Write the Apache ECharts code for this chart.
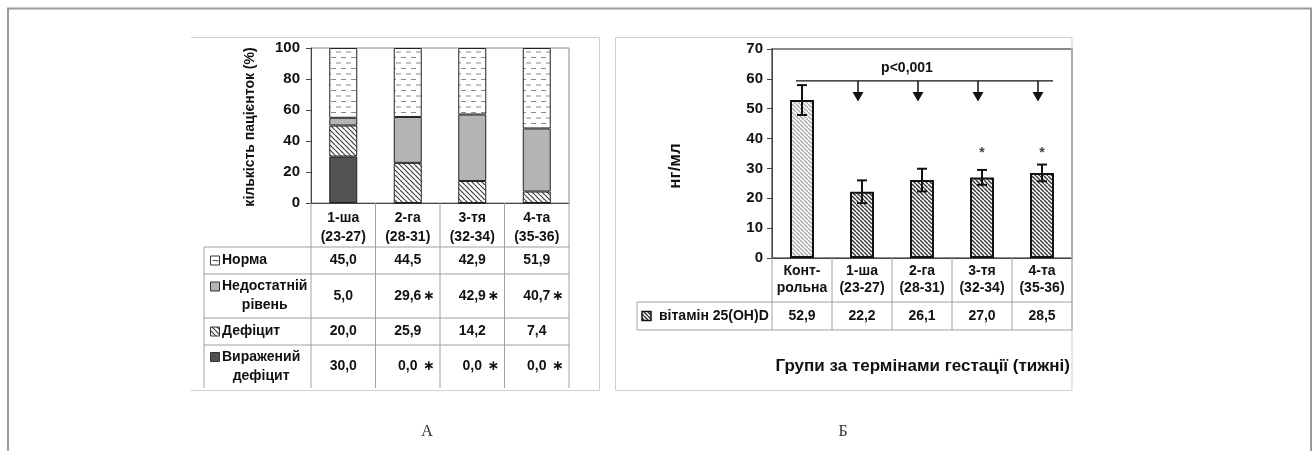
<!DOCTYPE html>
<html>
<head>
<meta charset="utf-8">
<script src="https://cdn.jsdelivr.net/npm/echarts@6/dist/echarts.min.js"></script>
<style>
html,body{margin:0;padding:0;background:#fff;}
#c{width:1313px;height:451px;}
</style>
</head>
<body>
<div id="c"></div>
<script>
// ---------- DATA: panel A ----------
const catsA = ['1-ша\n(23-27)', '2-га\n(28-31)', '3-тя\n(32-34)', '4-та\n(35-36)'];
const rowLabelsA = ['Норма', 'Недостатній\nрівень', 'Дефіцит', 'Виражений\nдефіцит'];
const normA = [45.0, 44.5, 42.9, 51.9];
const insuffA = [5.0, 29.6, 42.9, 40.7];
const deficitA = [20.0, 25.9, 14.2, 7.4];
const severeA = [30.0, 0.0, 0.0, 0.0];
const starsInsuffA = ['', '∗', '∗', '∗'];
const starsSevereA = ['', '∗', '∗', '∗'];
const yMinA = 0, yMaxA = 100, yStepA = 20;
const yTitleA = 'кількість пацієнток (%)';
const panelLabelA = 'А';

// ---------- DATA: panel B ----------
const catsB = ['Конт-\nрольна', '1-ша\n(23-27)', '2-га\n(28-31)', '3-тя\n(32-34)', '4-та\n(35-36)'];
const rowLabelB = 'вітамін 25(OH)D';
const vitD = [52.9, 22.2, 26.1, 27.0, 28.5];
const errD = [5.0, 3.8, 3.8, 2.5, 2.8];
const starsB = ['', '', '', '*', '*'];
const pText = 'p<0,001';
const pLevel = 59.3;
const arrowCats = [1, 2, 3, 4];
const arrowHeadTop = 55.6;
const arrowTip = 52.4;
const starLevel = 35;
const yMinB = 0, yMaxB = 70, yStepB = 10;
const yTitleB = 'нг/мл';
const xTitleB = 'Групи за термінами гестації (тижні)';
const panelLabelB = 'Б';

// ---------- helpers ----------
const FONT = '"Liberation Sans", Arial, sans-serif';
const TXT = '#111';
const fmt = v => v.toFixed(1).replace('.', ',');
const mctx = document.createElement('canvas').getContext('2d');
function measure(t, font) { mctx.font = font; return mctx.measureText(t).width; }

function hatch(size, color, lw, bg) {
  const c = document.createElement('canvas'); c.width = c.height = size;
  const g = c.getContext('2d'); g.fillStyle = bg; g.fillRect(0, 0, size, size);
  g.strokeStyle = color; g.lineWidth = lw; g.beginPath();
  for (const k of [-size, 0, size]) { g.moveTo(k, 0); g.lineTo(k + size, size); }
  g.stroke();
  return { image: c, repeat: 'repeat' };
}
function dashes() {
  const c = document.createElement('canvas'); c.width = 10; c.height = 11;
  const g = c.getContext('2d'); g.fillStyle = '#fff'; g.fillRect(0, 0, 10, 11);
  g.strokeStyle = '#8a8a8a'; g.lineWidth = 1; g.beginPath();
  g.moveTo(1, 2.5); g.lineTo(6, 2.5);
  g.moveTo(6, 8); g.lineTo(10, 8); g.moveTo(0, 8); g.lineTo(1, 8);
  g.stroke();
  return { image: c, repeat: 'repeat' };
}
const patNorm = dashes();
const patDefA = hatch(5, '#3c3c3c', 1.2, '#fff');
const patLightB = hatch(4, '#a8a8a8', 1.3, '#fff');
const patDarkB = hatch(4, '#363636', 1.4, '#fff');
const colInsuff = '#b4b4b4';
const colSevere = '#525252';

const chart = echarts.init(document.getElementById('c'), null, { renderer: 'canvas' });

// table A layout (px below x-axis line)
const rowBoundsA = [44, 71, 115, 142];
const rowCentersA = [57.5, 93, 128.5, 163.5];
const tableBottomA = 185;
const labelColA = 107;
const tableRowsA = [normA, insuffA, deficitA, severeA];
const tableStarsA = [null, starsInsuffA, null, starsSevereA];
const keyFillsA = [patNorm, colInsuff, patDefA, colSevere];

const cellFont = 'bold 14px ' + FONT;
const LINE = '#a0a0a0';

function renderTableA(params, api) {
  const i = params.dataIndex;
  const p = api.coord([i, 0]);
  const w = api.size([1, 0])[0];
  const cx = p[0], y0 = p[1], L = cx - w / 2, R = cx + w / 2;
  const ch = [];
  const line = (x1, y1, x2, y2) => ch.push({ type: 'line', shape: { x1, y1, x2, y2 }, style: { stroke: LINE, lineWidth: 1 } });
  line(R, y0, R, y0 + tableBottomA);
  if (i === 0) line(L, y0, L, y0 + tableBottomA);
  rowBoundsA.forEach(b => line(L, y0 + b, R, y0 + b));
  tableRowsA.forEach((row, r) => {
    ch.push({ type: 'text', style: { text: fmt(row[i]), x: cx, y: y0 + rowCentersA[r], font: cellFont, fill: TXT, align: 'center', verticalAlign: 'middle' } });
    const st = tableStarsA[r];
    if (st && st[i]) ch.push({ type: 'text', style: { text: st[i], x: cx + 21, y: y0 + rowCentersA[r], font: 'bold 14px "DejaVu Sans", sans-serif', fill: TXT, align: 'center', verticalAlign: 'middle' } });
  });
  if (i === 0) {
    const TL = L - labelColA;
    line(TL, y0 + rowBoundsA[0], TL, y0 + tableBottomA);
    rowBoundsA.forEach(b => line(TL, y0 + b, L, y0 + b));
    rowLabelsA.forEach((lab, r) => {
      const lines = lab.split('\n');
      const lh = 19;
      const firstY = y0 + rowCentersA[r] - (lines.length - 1) * lh / 2;
      const tx = TL + 18;
      const w1 = measure(lines[0], cellFont);
      ch.push({ type: 'text', style: { text: lab, x: tx + w1 / 2, y: y0 + rowCentersA[r], font: cellFont, fill: TXT, align: 'center', verticalAlign: 'middle', lineHeight: lh } });
      const kx = TL + 6.5, ky = firstY - 4.5;
      ch.push({ type: 'rect', shape: { x: kx, y: ky, width: 9, height: 9 }, style: { fill: keyFillsA[r], stroke: '#333', lineWidth: 1 } });
      if (r === 0) ch.push({ type: 'line', shape: { x1: kx + 2, y1: ky + 4.5, x2: kx + 7, y2: ky + 4.5 }, style: { stroke: '#555', lineWidth: 1 } });
    });
  }
  return { type: 'group', children: ch };
}

// table B layout
const rowBoundsB = [44, 72];
const rowCenterB = 58;
const labelColB = 135;
function renderTableB(params, api) {
  const i = params.dataIndex;
  const p = api.coord([i, 0]);
  const w = api.size([1, 0])[0];
  const cx = p[0], y0 = p[1], L = cx - w / 2, R = cx + w / 2;
  const ch = [];
  const line = (x1, y1, x2, y2) => ch.push({ type: 'line', shape: { x1, y1, x2, y2 }, style: { stroke: LINE, lineWidth: 1 } });
  line(R, y0, R, y0 + rowBoundsB[1]);
  if (i === 0) line(L, y0, L, y0 + rowBoundsB[1]);
  rowBoundsB.forEach(b => line(L, y0 + b, R, y0 + b));
  ch.push({ type: 'text', style: { text: fmt(vitD[i]), x: cx, y: y0 + rowCenterB, font: cellFont, fill: TXT, align: 'center', verticalAlign: 'middle' } });
  if (i === 0) {
    const TL = L - labelColB;
    line(TL, y0 + rowBoundsB[0], TL, y0 + rowBoundsB[1]);
    rowBoundsB.forEach(b => line(TL, y0 + b, L, y0 + b));
    ch.push({ type: 'rect', shape: { x: TL + 5, y: y0 + rowCenterB - 4.5, width: 9, height: 9 }, style: { fill: patDarkB, stroke: '#111', lineWidth: 1.5 } });
    ch.push({ type: 'text', style: { text: rowLabelB, x: TL + 22, y: y0 + rowCenterB, font: cellFont, fill: TXT, align: 'left', verticalAlign: 'middle' } });
  }
  return { type: 'group', children: ch };
}

function renderErr(params, api) {
  const x = api.coord([api.value(0), 0])[0];
  const lo = api.coord([api.value(0), api.value(1)])[1];
  const hi = api.coord([api.value(0), api.value(2)])[1];
  const s = { stroke: '#111', lineWidth: 2 };
  return { type: 'group', children: [
    { type: 'line', shape: { x1: x, y1: lo, x2: x, y2: hi }, style: s },
    { type: 'line', shape: { x1: x - 5, y1: hi, x2: x + 5, y2: hi }, style: s },
    { type: 'line', shape: { x1: x - 5, y1: lo, x2: x + 5, y2: lo }, style: s }
  ] };
}

function renderAnnot(params, api) {
  const ch = [];
  if (params.dataIndex === 0) {
    const y = api.coord([0, pLevel])[1];
    const x1 = api.coord([0, pLevel])[0] - 6;
    const x2 = api.coord([catsB.length - 1, pLevel])[0] + 11;
    ch.push({ type: 'line', shape: { x1, y1: y, x2, y2: y }, style: { stroke: '#111', lineWidth: 1.2 } });
    const tp = api.coord([2, 63.6]);
    ch.push({ type: 'text', style: { text: pText, x: tp[0] - 15, y: tp[1], font: 'bold 14px ' + FONT, fill: TXT, align: 'center', verticalAlign: 'middle' } });
  }
  const c = api.value(0);
  const yl = api.coord([c, pLevel])[1];
  const yh = api.coord([c, arrowHeadTop])[1];
  const yt = api.coord([c, arrowTip])[1];
  const x = api.coord([c, 0])[0] - 4;
  ch.push({ type: 'line', shape: { x1: x, y1: yl, x2: x, y2: yh }, style: { stroke: '#111', lineWidth: 1.5 } });
  ch.push({ type: 'polygon', shape: { points: [[x - 5.5, yh], [x + 5.5, yh], [x, yt]] }, style: { fill: '#111' } });
  return { type: 'group', children: ch };
}

const starData = starsB.map((s, i) => [i, starLevel, s]).filter(d => d[2]);

const yAxisCommon = {
  type: 'value', splitLine: { show: false },
  axisLine: { show: true, lineStyle: { color: '#444', width: 1 } },
  axisTick: { show: true, length: 5, lineStyle: { color: '#444' } },
  axisLabel: { fontSize: 15, fontWeight: 'bold', color: TXT, fontFamily: FONT }
};

const option = {
  animation: false,
  backgroundColor: '#fff',
  textStyle: { fontFamily: FONT },
  grid: [
    { left: 311, right: 744, top: 48, bottom: 248, show: true, borderColor: '#8a8a8a', borderWidth: 1, containLabel: false },
    { left: 772, right: 241, top: 49, bottom: 193, show: true, borderColor: '#8a8a8a', borderWidth: 2, containLabel: false }
  ],
  xAxis: [
    { type: 'category', gridIndex: 0, data: catsA, axisLine: { lineStyle: { color: '#444' } }, axisTick: { show: false },
      axisLabel: { interval: 0, fontSize: 14, fontWeight: 'bold', color: TXT, lineHeight: 19, margin: 6 } },
    { type: 'category', gridIndex: 1, data: catsB, axisLine: { lineStyle: { color: '#444' } }, axisTick: { show: false },
      axisLabel: { interval: 0, fontSize: 14, fontWeight: 'bold', color: TXT, lineHeight: 17, margin: 5 } }
  ],
  yAxis: [
    Object.assign({}, yAxisCommon, { gridIndex: 0, min: yMinA, max: yMaxA, interval: yStepA, axisLabel: Object.assign({}, yAxisCommon.axisLabel, { margin: 11 }) }),
    Object.assign({}, yAxisCommon, { gridIndex: 1, min: yMinB, max: yMaxB, interval: yStepB, axisLabel: Object.assign({}, yAxisCommon.axisLabel, { margin: 9 }) })
  ],
  series: [
    { type: 'bar', name: rowLabelsA[3], stack: 'a', xAxisIndex: 0, yAxisIndex: 0, data: severeA, barWidth: 28,
      itemStyle: { color: colSevere, borderColor: '#222', borderWidth: 1 } },
    { type: 'bar', name: rowLabelsA[2], stack: 'a', xAxisIndex: 0, yAxisIndex: 0, data: deficitA, barWidth: 28,
      itemStyle: { color: patDefA, borderColor: '#222', borderWidth: 1 } },
    { type: 'bar', name: rowLabelsA[1], stack: 'a', xAxisIndex: 0, yAxisIndex: 0, data: insuffA, barWidth: 28,
      itemStyle: { color: colInsuff, borderColor: '#222', borderWidth: 1 } },
    { type: 'bar', name: rowLabelsA[0], stack: 'a', xAxisIndex: 0, yAxisIndex: 0, data: normA, barWidth: 28,
      itemStyle: { color: patNorm, borderColor: '#222', borderWidth: 1 } },
    { type: 'custom', xAxisIndex: 0, yAxisIndex: 0, clip: false, z: 5, silent: true,
      data: catsA.map((c, i) => [i, 0]), renderItem: renderTableA },
    { type: 'bar', name: rowLabelB, xAxisIndex: 1, yAxisIndex: 1, barWidth: 24,
      data: vitD.map((v, i) => ({ value: v, itemStyle: { color: i === 0 ? patLightB : patDarkB } })),
      itemStyle: { borderColor: '#111', borderWidth: 2 } },
    { type: 'custom', xAxisIndex: 1, yAxisIndex: 1, clip: false, z: 6, silent: true,
      data: vitD.map((v, i) => [i, v - errD[i], v + errD[i]]), encode: { x: 0, y: [1, 2] }, renderItem: renderErr },
    { type: 'custom', xAxisIndex: 1, yAxisIndex: 1, clip: false, z: 6, silent: true,
      data: arrowCats.map(c => [c, pLevel]), renderItem: renderAnnot },
    { type: 'scatter', xAxisIndex: 1, yAxisIndex: 1, symbolSize: 0, silent: true, z: 6,
      data: starData.map(d => [d[0], d[1], d[2]]),
      label: { show: true, position: 'inside', formatter: p => p.data[2], fontSize: 14, fontWeight: 'bold', color: TXT } },
    { type: 'custom', xAxisIndex: 1, yAxisIndex: 1, clip: false, z: 5, silent: true,
      data: catsB.map((c, i) => [i, 0]), renderItem: renderTableB }
  ],
  graphic: [
    { type: 'polyline', shape: { points: [[8, 451], [8, 8.5], [1311, 8.5], [1311, 451]] }, style: { stroke: '#9a9a9a', lineWidth: 2, fill: null }, silent: true },
    { type: 'polyline', shape: { points: [[191, 37.5], [599.5, 37.5], [599.5, 390.5], [191, 390.5]] }, style: { stroke: '#cfcfcf', lineWidth: 1, fill: null }, silent: true },
    { type: 'rect', shape: { x: 615.5, y: 37.5, width: 456.5, height: 353 }, style: { stroke: '#cfcfcf', lineWidth: 1, fill: null }, silent: true },
    { type: 'text', x: 250, y: 127, rotation: Math.PI / 2, style: { text: yTitleA, font: 'bold 14px ' + FONT, fill: TXT, align: 'center', verticalAlign: 'middle' }, silent: true },
    { type: 'text', x: 675, y: 166, rotation: Math.PI / 2, style: { text: yTitleB, font: 'bold 17px ' + FONT, fill: TXT, align: 'center', verticalAlign: 'middle' }, silent: true },
    { type: 'text', x: 1070, y: 366, style: { text: xTitleB, font: 'bold 17px ' + FONT, fill: TXT, align: 'right', verticalAlign: 'middle' }, silent: true },
    { type: 'text', x: 427, y: 432, style: { text: panelLabelA, font: '16px "Liberation Serif", serif', fill: '#333', align: 'center', verticalAlign: 'middle' }, silent: true },
    { type: 'text', x: 843, y: 432, style: { text: panelLabelB, font: '16px "Liberation Serif", serif', fill: '#333', align: 'center', verticalAlign: 'middle' }, silent: true }
  ]
};
chart.setOption(option);
</script>
</body>
</html>
